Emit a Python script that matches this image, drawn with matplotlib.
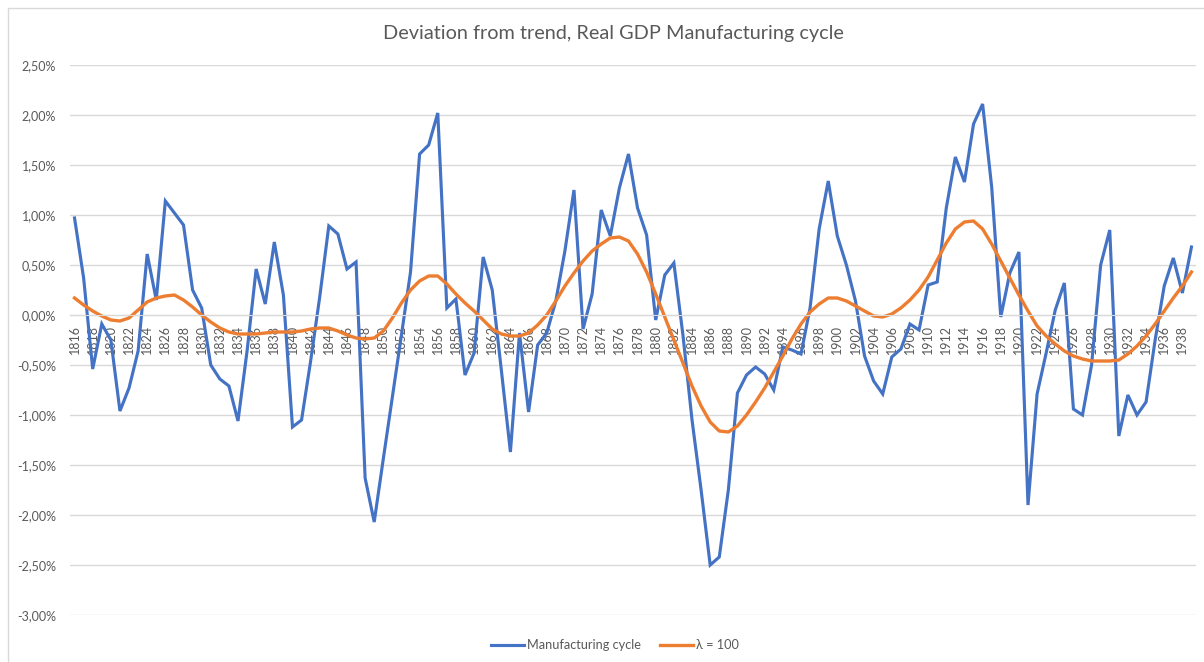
import matplotlib
matplotlib.use("Agg")
import matplotlib.pyplot as plt
from matplotlib.patches import Rectangle
from matplotlib.ticker import FuncFormatter, MultipleLocator


years = list(range(1816, 1940))

# deviation from trend, in percent
manufacturing_cycle = [
    0.97, 0.37, -0.54, -0.09, -0.25, -0.96, -0.73, -0.36, 0.61, 0.15,   # 1816-1825
    1.14, 1.02, 0.90, 0.25, 0.07, -0.50, -0.64, -0.71, -1.06, -0.36,    # 1826-1835
    0.46, 0.11, 0.73, 0.20, -1.12, -1.05, -0.46, 0.18, 0.89, 0.81,      # 1836-1845
    0.46, 0.53, -1.63, -2.07, -1.44, -0.82, -0.20, 0.43, 1.61, 1.70,    # 1846-1855
    2.02, 0.07, 0.16, -0.60, -0.38, 0.58, 0.25, -0.55, -1.37, -0.18,    # 1856-1865
    -0.97, -0.30, -0.18, 0.14, 0.64, 1.25, -0.14, 0.21, 1.05, 0.79,     # 1866-1875
    1.27, 1.61, 1.07, 0.80, -0.05, 0.40, 0.52, -0.20, -1.05, -1.75,     # 1876-1885
    -2.50, -2.42, -1.75, -0.78, -0.60, -0.52, -0.59, -0.75, -0.32, -0.35,  # 1886-1895
    -0.39, 0.07, 0.86, 1.34, 0.79, 0.50, 0.14, -0.41, -0.66, -0.79,     # 1896-1905
    -0.42, -0.34, -0.09, -0.15, 0.30, 0.33, 1.07, 1.58, 1.33, 1.91,     # 1906-1915
    2.11, 1.28, -0.02, 0.42, 0.63, -1.90, -0.79, -0.38, 0.05, 0.32,     # 1916-1925
    -0.94, -1.00, -0.50, 0.50, 0.85, -1.21, -0.80, -1.00, -0.87, -0.25,  # 1926-1935
    0.29, 0.57, 0.22, 0.68,                                             # 1936-1939
]

trend_lambda_100 = [
    0.17, 0.10, 0.04, -0.01, -0.05, -0.06, -0.03, 0.05, 0.13, 0.17,     # 1816-1825
    0.19, 0.20, 0.15, 0.08, 0.00, -0.07, -0.13, -0.17, -0.19, -0.19,    # 1826-1835
    -0.19, -0.18, -0.17, -0.17, -0.17, -0.16, -0.14, -0.13, -0.13, -0.16,  # 1836-1845
    -0.20, -0.23, -0.24, -0.23, -0.16, -0.03, 0.12, 0.25, 0.34, 0.39,   # 1846-1855
    0.39, 0.31, 0.21, 0.12, 0.04, -0.05, -0.14, -0.19, -0.21, -0.21,    # 1856-1865
    -0.18, -0.10, 0.00, 0.14, 0.29, 0.42, 0.54, 0.64, 0.71, 0.77,       # 1866-1875
    0.78, 0.74, 0.61, 0.43, 0.21, -0.02, -0.25, -0.48, -0.71, -0.91,    # 1876-1885
    -1.07, -1.16, -1.17, -1.11, -1.00, -0.87, -0.73, -0.57, -0.41, -0.24,  # 1886-1895
    -0.09, 0.03, 0.11, 0.17, 0.17, 0.14, 0.09, 0.04, -0.01, -0.02,      # 1896-1905
    0.01, 0.07, 0.15, 0.25, 0.38, 0.55, 0.72, 0.86, 0.93, 0.94,         # 1906-1915
    0.86, 0.71, 0.54, 0.37, 0.20, 0.04, -0.11, -0.21, -0.29, -0.36,     # 1916-1925
    -0.41, -0.44, -0.46, -0.46, -0.46, -0.45, -0.39, -0.31, -0.21, -0.09,  # 1926-1935
    0.04, 0.17, 0.29, 0.43,                                             # 1936-1939
]

tick_years = list(range(1816, 1940, 2))

TEXT = "#595959"
GRID = "#D9D9D9"
BLUE = "#4472C4"
ORANGE = "#ED7D31"

plt.rcParams["font.family"] = ["Lato", "DejaVu Sans"]


def pct(v, _pos):
    return f"{v:.2f}".replace(".", ",") + "%"


def main() -> None:
    W, H = 1204, 662
    fig = plt.figure(figsize=(W / 100, H / 100), dpi=100)

    # faint chart-area border like the Excel export
    fig.patches.append(Rectangle((8 / W, -0.05), 1.2, 1 - 8 / H + 0.05,
                                 transform=fig.transFigure, fill=False,
                                 edgecolor=GRID, lw=1))

    ax = fig.add_axes([70 / W, 1 - 615 / H, 1126 / W, 550 / H])

    ax.plot(years, manufacturing_cycle, color=BLUE, lw=2.25,
            label="Manufacturing cycle", solid_joinstyle="miter")
    ax.plot(years, trend_lambda_100, color=ORANGE, lw=2.4, label="λ = 100")

    ax.set_xlim(1815.5, 1939.5)
    ax.set_ylim(-3.0, 2.5)
    ax.yaxis.set_major_locator(MultipleLocator(0.5))
    ax.yaxis.set_major_formatter(FuncFormatter(pct))
    ax.yaxis.grid(True, color=GRID, lw=1)
    ax.set_axisbelow(True)

    for side in ("top", "right", "left"):
        ax.spines[side].set_visible(False)
    ax.spines["bottom"].set_position(("data", 0))
    ax.spines["bottom"].set_color(GRID)

    ax.set_xticks(tick_years)
    ax.set_xticklabels([str(y) for y in tick_years], rotation=90)
    ax.tick_params(axis="x", length=0, pad=7, labelsize=9, labelcolor=TEXT)
    ax.tick_params(axis="y", length=0, pad=10, labelsize=9, labelcolor=TEXT)

    fig.text(613 / W, 1 - 34 / H, "Deviation from trend, Real GDP Manufacturing cycle",
             ha="center", va="center", fontsize=14.3, color=TEXT)

    fig.legend(loc="center", bbox_to_anchor=(615 / W, 1 - 645 / H), ncol=2,
               frameon=False, fontsize=9.2, handlelength=2.6, handletextpad=0.2,
               columnspacing=1.5, labelcolor=TEXT)

    fig.savefig("out.png", dpi=100)
    plt.close(fig)


if __name__ == "__main__":
    main()
